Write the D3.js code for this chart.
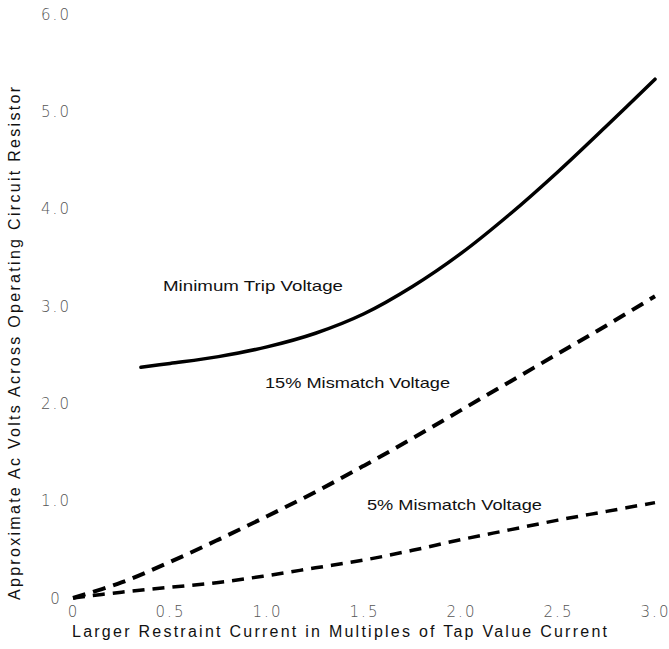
<!DOCTYPE html>
<html>
<head>
<meta charset="utf-8">
<script src="https://cdn.jsdelivr.net/npm/d3@7"></script>
<style>
  body { margin: 0; background: #fff; }
  svg { display: block; font-family: "Liberation Sans", Arial, sans-serif; }
</style>
</head>
<body>
<svg width="669" height="649"></svg>
<script>
// values
const xValues = [0, 0.25, 0.5, 0.75, 1.0, 1.25, 1.5, 1.75, 2.0, 2.25, 2.5, 2.75, 3.0]
const tripX = [0.35, 0.5, 0.75, 1.0, 1.25, 1.5, 1.75, 2.0, 2.25, 2.5, 2.75, 3.0]
const tripVolts = [2.37, 2.41, 2.48, 2.58, 2.72, 2.92, 3.2, 3.54, 3.94, 4.38, 4.85, 5.33]
const mismatch15 = [0, 0.16, 0.37, 0.6, 0.84, 1.09, 1.36, 1.64, 1.93, 2.22, 2.51, 2.8, 3.1]
const mismatch5 = [0, 0.06, 0.11, 0.16, 0.23, 0.31, 0.39, 0.49, 0.6, 0.7, 0.8, 0.89, 0.98]
const xTicks = [0, 0.5, 1.0, 1.5, 2.0, 2.5, 3.0]
const xTickLabels = ['0', '0.5', '1.0', '1.5', '2.0', '2.5', '3.0']
const yTicks = [0, 1, 2, 3, 4, 5, 6]
const yTickLabels = ['0', '1.0', '2.0', '3.0', '4.0', '5.0', '6.0']

const svg = d3.select('svg')

const x = d3.scaleLinear().domain([0, 3]).range([73, 655])
const y = d3.scaleLinear().domain([0, 6]).range([598, 14])

// axes: labels only, no lines
const xAxis = svg.append('g')
    .attr('transform', 'translate(0,606)')
    .call(d3.axisBottom(x).tickValues(xTicks).tickSize(0).tickPadding(0)
        .tickFormat((d, i) => xTickLabels[i]))
xAxis.select('.domain').remove()

const yAxis = svg.append('g')
    .attr('transform', 'translate(56,0)')
    .call(d3.axisLeft(y).tickValues(yTicks).tickSize(0).tickPadding(0)
        .tickFormat((d, i) => yTickLabels[i]))
yAxis.select('.domain').remove()

svg.selectAll('.tick text')
    .attr('font-family', '"DejaVu Sans", "Liberation Sans", sans-serif')
    .attr('font-weight', 200)
    .attr('font-size', 15)
    .attr('fill', '#555')
    .attr('letter-spacing', '2px')
yAxis.selectAll('.tick text').attr('text-anchor', 'middle').attr('x', 0).attr('dy', '0.35em')

const line = d3.line()
    .x(d => x(d[0]))
    .y(d => y(d[1]))
    .curve(d3.curveCatmullRom)

svg.append('path')
    .datum(tripX.map((v, i) => [v, tripVolts[i]]))
    .attr('d', line)
    .attr('fill', 'none')
    .attr('stroke', '#000')
    .attr('stroke-width', 3.5)
    .attr('stroke-linecap', 'round')

svg.append('path')
    .datum(xValues.map((v, i) => [v, mismatch15[i]]))
    .attr('d', line)
    .attr('fill', 'none')
    .attr('stroke', '#000')
    .attr('stroke-width', 4)
    .attr('stroke-dasharray', '13 8')

svg.append('path')
    .datum(xValues.map((v, i) => [v, mismatch5[i]]))
    .attr('d', line)
    .attr('fill', 'none')
    .attr('stroke', '#000')
    .attr('stroke-width', 3.5)
    .attr('stroke-dasharray', '12 8')

// curve labels
const labels = [
    { text: 'Minimum Trip Voltage', x: 163, y: 291, len: 180 },
    { text: '15% Mismatch Voltage', x: 265, y: 388, len: 185 },
    { text: '5% Mismatch Voltage', x: 367, y: 510, len: 175 }
]
svg.selectAll('.curve-label').data(labels)
    .enter().append('text')
        .attr('class', 'curve-label')
        .attr('x', d => d.x)
        .attr('y', d => d.y)
        .attr('textLength', d => d.len)
        .attr('lengthAdjust', 'spacingAndGlyphs')
        .attr('font-size', 15)
        .attr('fill', '#111')
        .text(d => d.text)

// axis titles
svg.append('text')
    .attr('x', 72)
    .attr('y', 637)
    .attr('textLength', 535)
    .attr('lengthAdjust', 'spacing')
    .attr('font-size', 16)
    .attr('fill', '#111')
    .text('Larger Restraint Current in Multiples of Tap Value Current')

svg.append('text')
    .attr('transform', 'translate(20,600) rotate(-90)')
    .attr('textLength', 513)
    .attr('lengthAdjust', 'spacing')
    .attr('font-size', 16)
    .attr('fill', '#111')
    .text('Approximate Ac Volts Across Operating Circuit Resistor')
</script>
</body>
</html>
